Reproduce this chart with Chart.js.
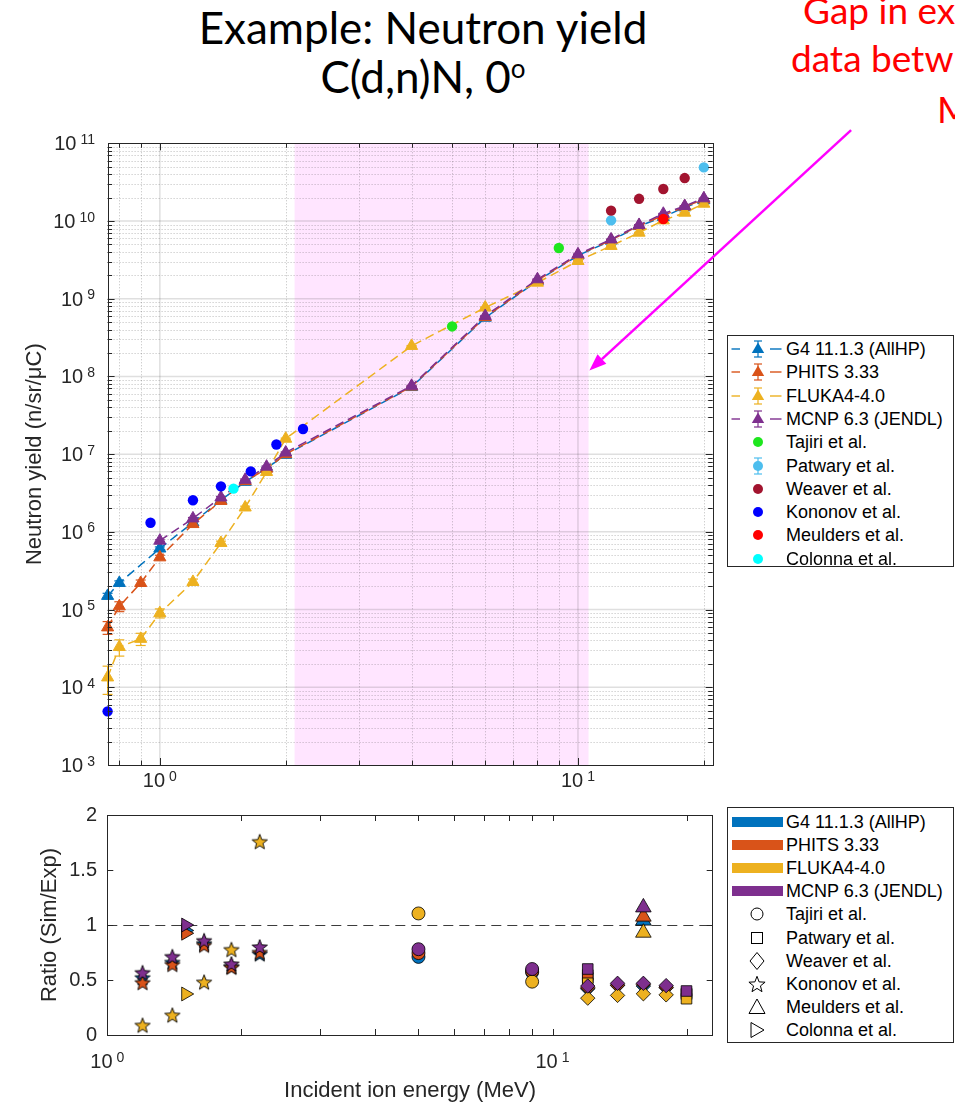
<!DOCTYPE html>
<html lang="en">
<head>
<meta charset="utf-8">
<title>Neutron yield C(d,n)N</title>
<script src="https://cdn.jsdelivr.net/npm/chart.js@4.4.1/dist/chart.umd.min.js"></script>
<style>
  html, body { margin: 0; padding: 0; background: #fff; }
  body { position: relative; width: 955px; height: 1103px; overflow: hidden; }
  canvas.plot { position: absolute; left: 0; }
  .heading { position: absolute; left: 0; width: 846px; text-align: center; font-family: Lato, "Open Sans", sans-serif;
             font-size: 44px; line-height: 44px; color: #000; white-space: nowrap; }
  .heading sup { font-size: 26px; line-height: 0; vertical-align: 0; position: relative; top: -15px; }
  .note { position: absolute; font-family: Lato, "Open Sans", sans-serif; font-size: 37px; line-height: 37px;
          color: #ff0000; white-space: nowrap; }
  .legend { position: absolute; background: #fff; border: 1px solid #262626; box-sizing: border-box;
            font-family: "Liberation Sans", Arial, sans-serif; font-size: 18px; color: #000; }
  .legend .row { position: absolute; left: 0; height: 22px; width: 100%; }
  .legend .row canvas { position: absolute; left: 2px; top: 0; }
  .legend .row span { position: absolute; left: 58px; top: 0; line-height: 22px; white-space: nowrap; }
</style>
</head>
<body>
<div class="heading" style="top:5px">Example: Neutron yield</div>
<div class="heading" style="top:54px">C(d,n)N, 0<sup>o</sup></div>
<div class="note" style="left:803px;top:-9px">Gap in ex</div>
<div class="note" style="left:791px;top:39px">data betw</div>
<div class="note" style="left:937px;top:90px">M</div>

<canvas class="plot" id="yieldChart" width="955" height="685" style="top:110px"></canvas>
<canvas class="plot" id="ratioChart" width="955" height="308" style="top:795px"></canvas>

<div class="legend" id="yieldLegend" style="left:727px;top:335px;width:227px;height:232px"></div>
<div class="legend" id="ratioLegend" style="left:727px;top:807px;width:227px;height:236px"></div>

<script>
// ---------------- simulated yields (n/sr/uC) vs deuteron energy (MeV) ----------------
const SIM_NAMES  = ['G4 11.1.3 (AllHP)', 'PHITS 3.33', 'FLUKA4-4.0', 'MCNP 6.3 (JENDL)'];
const SIM_COLORS = ['#0072BD', '#D95319', '#EDB120', '#7E2F8E'];

const G4_ENERGY = [0.75, 0.8, 1.0, 1.2, 1.4, 1.6, 1.8, 2.0, 4, 6, 8, 10, 12, 14, 16, 18, 20];
const G4_YIELD  = [1.5e5, 2.2e5, 6.1e5, 1.32e6, 2.55e6, 4.4e6, 6.6e6, 9.8e6, 7.3e7, 5.7e8, 1.7e9, 3.6e9, 5.6e9, 8.6e9, 1.13e10, 1.5e10, 1.85e10];
const G4_ERROR  = [1.2e4, 1.4e4, 3.0e4, 5e4, 8e4, 1.2e5, 1.6e5, 2.2e5, 1.2e6, 8e6, 2e7, 4e7, 6e7, 9e7, 1.1e8, 1.4e8, 1.7e8];

const PHITS_ENERGY = [0.75, 0.8, 0.9, 1.0, 1.2, 1.4, 1.6, 1.8, 2.0, 4, 6, 8, 10, 12, 14, 16, 18, 20];
const PHITS_YIELD  = [5.9e4, 1.1e5, 2.2e5, 4.7e5, 1.26e6, 2.5e6, 4.5e6, 6.5e6, 1.0e7, 7.4e7, 5.8e8, 1.72e9, 3.65e9, 5.7e9, 8.7e9, 1.18e10, 1.53e10, 1.9e10];
const PHITS_ERROR  = [1.1e4, 1.6e4, 2.0e4, 3.0e4, 5e4, 8e4, 1.2e5, 1.6e5, 2.2e5, 1.2e6, 8e6, 2e7, 4e7, 6e7, 9e7, 1.1e8, 1.4e8, 1.7e8];

const FLUKA_ENERGY = [0.75, 0.8, 0.9, 1.0, 1.2, 1.4, 1.6, 1.8, 2.0, 4, 6, 8, 10, 12, 14, 16, 18, 20];
const FLUKA_YIELD  = [1.34e4, 3.3e4, 4.2e4, 9.0e4, 2.27e5, 7.2e5, 2.06e6, 5.9e6, 1.58e7, 2.47e8, 7.7e8, 1.61e9, 3.06e9, 4.78e9, 7.08e9, 1.02e10, 1.28e10, 1.67e10];
const FLUKA_ERROR  = [5.3e3, 7.8e3, 7.5e3, 1.2e4, 2.0e4, 4e4, 8e4, 1.5e5, 3e5, 3e6, 1e7, 2e7, 4e7, 6e7, 8e7, 1.1e8, 1.3e8, 1.6e8];

const MCNP_ENERGY = [1.0, 1.2, 1.4, 1.6, 1.8, 2.0, 4, 6, 8, 10, 12, 14, 16, 18, 20];
const MCNP_YIELD  = [7.7e5, 1.49e6, 2.77e6, 4.68e6, 6.9e6, 1.05e7, 7.57e7, 6.0e8, 1.78e9, 3.73e9, 5.8e9, 8.9e9, 1.24e10, 1.56e10, 1.96e10];
const MCNP_ERROR  = [2e4, 4e4, 7e4, 1e5, 1.5e5, 2e5, 1.2e6, 8e6, 2e7, 4e7, 6e7, 9e7, 1.1e8, 1.4e8, 1.7e8];

// ---------------- measured yields ----------------
const EXP_NAMES  = ['Tajiri et al.', 'Patwary et al.', 'Weaver et al.', 'Kononov et al.', 'Meulders et al.', 'Colonna et al.'];
const EXP_COLORS = ['#1EE61E', '#4DBEEE', '#A2142F', '#0000FF', '#FF0000', '#00FFFF'];

const TAJIRI_ENERGY   = [5, 9];
const TAJIRI_YIELD    = [4.4e8, 4.5e9];
const PATWARY_ENERGY  = [12, 20];
const PATWARY_YIELD   = [1.02e10, 4.9e10];
const WEAVER_ENERGY   = [12, 14, 16, 18];
const WEAVER_YIELD    = [1.36e10, 1.93e10, 2.58e10, 3.57e10];
const KONONOV_ENERGY  = [0.75, 0.95, 1.2, 1.4, 1.65, 1.9, 2.2];
const KONONOV_YIELD   = [4.9e3, 1.31e6, 2.55e6, 3.85e6, 6.0e6, 1.33e7, 2.11e7];
const MEULDERS_ENERGY = [16];
const MEULDERS_YIELD  = [1.06e10];
const COLONNA_ENERGY  = [1.5];
const COLONNA_YIELD   = [3.6e6];

// ---------------- simulation / experiment ratios (rows: G4, PHITS, FLUKA, MCNP) ----------------
const TAJIRI_RATIO   = [[0.71, 0.57], [0.745, 0.58], [1.105, 0.485], [0.78, 0.6]];
const PATWARY_RATIO  = [[0.52, 0.37], [0.545, 0.38], [0.47, 0.33], [0.6, 0.4]];
const WEAVER_RATIO   = [[0.42, 0.45, 0.445, 0.43], [0.43, 0.455, 0.46, 0.435], [0.335, 0.36, 0.375, 0.365], [0.445, 0.47, 0.47, 0.449]];
const KONONOV_RATIO_ENERGY = [1.2, 1.4, 1.65, 1.9, 2.2];
const KONONOV_RATIO  = [[0.52, 0.66, 0.83, 0.62, 0.735], [0.475, 0.64, 0.815, 0.615, 0.75], [0.088, 0.18, 0.48, 0.776, 1.757], [0.566, 0.712, 0.857, 0.645, 0.8]];
const MEULDERS_RATIO = [[1.04], [1.076], [0.93], [1.16]];
const COLONNA_RATIO  = [[0.95], [0.925], [0.373], [1.0]];

// ---------------- axes ----------------
const X_RANGE = [0.75, 21];
const Y_RANGE = [1e3, 1e11];
const Y_TICK_EXPONENTS = [3, 4, 5, 6, 7, 8, 9, 10, 11];
const X_TICK_EXPONENTS = [0, 1];
const GAP_RANGE = [2.1, 10.6];
const ARROW_FROM = [45, 1.48e11];
const ARROW_TO = [10.65, 1.19e8];

const RATIO_X_RANGE = [1, 22.9];
const RATIO_Y_RANGE = [0, 2];
const RATIO_Y_TICKS = [0, 0.5, 1, 1.5, 2];
const RATIO_Y_LABELS = ['0', '0.5', '1', '1.5', '2'];
const RATIO_X_EXPONENTS = [0, 1];

const AXIS_COLOR = '#262626';
const TICK_FONT = '20px "Liberation Sans", Arial, sans-serif';
const SUP_FONT = '14px "Liberation Sans", Arial, sans-serif';
const LABEL_FONT = '22px "Liberation Sans", Arial, sans-serif';

// ---------------- helpers ----------------
function logSteps(min, max) {
  const out = [];
  const e0 = Math.floor(Math.log10(min)), e1 = Math.ceil(Math.log10(max));
  for (let e = e0; e <= e1; e++) {
    for (let k = 1; k <= 9; k++) {
      const v = k * Math.pow(10, e);
      if (v > min * 1.0001 && v < max * 0.9999) out.push({ v, major: k === 1 });
    }
  }
  return out;
}

function seg(ctx, x0, y0, x1, y1) {
  ctx.beginPath(); ctx.moveTo(x0, y0); ctx.lineTo(x1, y1); ctx.stroke();
}

// "10" with a raised exponent; anchor 'right' or 'center'
function powerLabel(ctx, exp, x, baseline, anchor) {
  ctx.font = TICK_FONT; const wb = ctx.measureText('10').width;
  ctx.font = SUP_FONT; const ws = ctx.measureText(String(exp)).width;
  const gap = 4, total = wb + gap + ws;
  const left = anchor === 'right' ? x - total : x - total / 2;
  ctx.textAlign = 'left'; ctx.textBaseline = 'alphabetic';
  ctx.font = TICK_FONT; ctx.fillText('10', left, baseline);
  ctx.font = SUP_FONT; ctx.fillText(String(exp), left + wb + gap, baseline - 6.5);
}

function rotatedLabel(ctx, text, baselineX, centerY) {
  ctx.save();
  ctx.translate(baselineX, centerY);
  ctx.rotate(-Math.PI / 2);
  ctx.font = LABEL_FONT; ctx.fillStyle = AXIS_COLOR;
  ctx.textAlign = 'center'; ctx.textBaseline = 'alphabetic';
  ctx.fillText(text, 0, 0);
  ctx.restore();
}

function starPath(g, cx, cy, ro, ri) {
  g.beginPath();
  for (let k = 0; k < 10; k++) {
    const r = k % 2 ? ri : ro;
    const a = -Math.PI / 2 + k * Math.PI / 5;
    const px = cx + r * Math.cos(a), py = cy + r * Math.sin(a);
    if (k) g.lineTo(px, py); else g.moveTo(px, py);
  }
  g.closePath();
}

function starImage(fill) {
  const c = document.createElement('canvas');
  c.width = 18; c.height = 18;
  const g = c.getContext('2d');
  starPath(g, 9, 9.6, 8, 3.4);
  g.fillStyle = fill; g.fill();
  g.lineWidth = 0.9; g.strokeStyle = '#000'; g.stroke();
  return c;
}

// ---------------- yield chart ----------------
const SIM_SERIES = [
  { e: G4_ENERGY, y: G4_YIELD, err: G4_ERROR },
  { e: PHITS_ENERGY, y: PHITS_YIELD, err: PHITS_ERROR },
  { e: FLUKA_ENERGY, y: FLUKA_YIELD, err: FLUKA_ERROR },
  { e: MCNP_ENERGY, y: MCNP_YIELD, err: MCNP_ERROR }
];
const EXP_SERIES = [
  { e: TAJIRI_ENERGY, y: TAJIRI_YIELD },
  { e: PATWARY_ENERGY, y: PATWARY_YIELD },
  { e: WEAVER_ENERGY, y: WEAVER_YIELD },
  { e: KONONOV_ENERGY, y: KONONOV_YIELD },
  { e: MEULDERS_ENERGY, y: MEULDERS_YIELD },
  { e: COLONNA_ENERGY, y: COLONNA_YIELD }
];

const yieldDatasets = [];
SIM_SERIES.forEach((s, i) => yieldDatasets.push({
  label: SIM_NAMES[i],
  data: s.e.map((e, j) => ({ x: e, y: s.y[j] })),
  errors: s.err,
  showLine: true,
  borderColor: SIM_COLORS[i], borderWidth: 1.5, borderDash: [9, 5],
  pointStyle: 'triangle', pointRadius: 7,
  pointBackgroundColor: SIM_COLORS[i], pointBorderColor: SIM_COLORS[i], pointBorderWidth: 1,
  clip: false
}));
EXP_SERIES.forEach((s, i) => yieldDatasets.push({
  label: EXP_NAMES[i],
  data: s.e.map((e, j) => ({ x: e, y: s.y[j] })),
  showLine: false,
  pointStyle: 'circle', pointRadius: 5.2,
  pointBackgroundColor: EXP_COLORS[i], pointBorderColor: EXP_COLORS[i], pointBorderWidth: 0,
  clip: false
}));
// later entries are painted on top
yieldDatasets.forEach((d, i) => { d.order = yieldDatasets.length - i; });

const yieldFrame = {
  id: 'yieldFrame',
  beforeDatasetsDraw(chart) {
    const { ctx, chartArea: a, scales: { x, y } } = chart;
    ctx.save();
    // energy window without measurements
    const g0 = x.getPixelForValue(GAP_RANGE[0]), g1 = x.getPixelForValue(GAP_RANGE[1]);
    ctx.fillStyle = 'rgba(255,0,255,0.1)';
    ctx.fillRect(g0, a.top, g1 - g0, a.bottom - a.top);

    const xs = logSteps(X_RANGE[0], X_RANGE[1]), ys = logSteps(Y_RANGE[0], Y_RANGE[1]);
    // minor grid (dotted)
    ctx.strokeStyle = 'rgba(38,38,38,0.3)'; ctx.lineWidth = 1; ctx.setLineDash([1, 2]);
    xs.filter(t => !t.major).forEach(t => { const p = Math.round(x.getPixelForValue(t.v)) + 0.5; seg(ctx, p, a.top, p, a.bottom); });
    ys.filter(t => !t.major).forEach(t => { const p = Math.round(y.getPixelForValue(t.v)) + 0.5; seg(ctx, a.left, p, a.right, p); });
    // major grid (solid)
    ctx.setLineDash([]); ctx.strokeStyle = 'rgba(38,38,38,0.15)'; ctx.lineWidth = 1.5;
    xs.filter(t => t.major).forEach(t => { const p = x.getPixelForValue(t.v); seg(ctx, p, a.top, p, a.bottom); });
    ys.filter(t => t.major).forEach(t => { const p = y.getPixelForValue(t.v); seg(ctx, a.left, p, a.right, p); });

    // error bars of the simulated series
    ctx.lineWidth = 1.2;
    chart.data.datasets.forEach((ds, i) => {
      if (!ds.errors) return;
      const meta = chart.getDatasetMeta(i);
      ctx.strokeStyle = ds.borderColor;
      ds.data.forEach((pt, j) => {
        const err = ds.errors[j];
        if (!err) return;
        const px = meta.data[j].x;
        const hi = y.getPixelForValue(pt.y + err);
        const lo = y.getPixelForValue(Math.max(pt.y - err, pt.y * 0.05));
        seg(ctx, px, hi, px, lo);
        seg(ctx, px - 5, hi, px + 5, hi);
        seg(ctx, px - 5, lo, px + 5, lo);
      });
    });
    ctx.restore();
  },
  afterDraw(chart) {
    const { ctx, chartArea: a, scales: { x, y } } = chart;
    ctx.save();
    ctx.strokeStyle = AXIS_COLOR; ctx.fillStyle = AXIS_COLOR; ctx.lineWidth = 1;
    // axes box
    ctx.strokeRect(Math.round(a.left) + 0.5, Math.round(a.top) + 0.5, Math.round(a.right - a.left), Math.round(a.bottom - a.top));
    // inward ticks on all four sides
    logSteps(X_RANGE[0], X_RANGE[1]).forEach(t => {
      const p = Math.round(x.getPixelForValue(t.v)) + 0.5, len = t.major ? 7 : 4.5;
      seg(ctx, p, a.bottom, p, a.bottom - len); seg(ctx, p, a.top, p, a.top + len);
    });
    logSteps(Y_RANGE[0], Y_RANGE[1]).forEach(t => {
      const p = Math.round(y.getPixelForValue(t.v)) + 0.5, len = t.major ? 7 : 4.5;
      seg(ctx, a.left, p, a.left + len, p); seg(ctx, a.right, p, a.right - len, p);
    });
    // tick labels
    Y_TICK_EXPONENTS.forEach(e => powerLabel(ctx, e, 95, y.getPixelForValue(Math.pow(10, e)) + 7, 'right'));
    X_TICK_EXPONENTS.forEach(e => powerLabel(ctx, e, x.getPixelForValue(Math.pow(10, e)), a.bottom + 22, 'center'));
    // axis title
    rotatedLabel(ctx, 'Neutron yield (n/sr/\u03BCC)', 41, (a.top + a.bottom) / 2);

    // pointer into the unmeasured energy window
    const x0 = x.getPixelForValue(ARROW_FROM[0]), y0 = y.getPixelForValue(ARROW_FROM[1]);
    const x1 = x.getPixelForValue(ARROW_TO[0]), y1 = y.getPixelForValue(ARROW_TO[1]);
    const ang = Math.atan2(y1 - y0, x1 - x0), head = 17, half = 6.5;
    const bx = x1 - head * Math.cos(ang), by = y1 - head * Math.sin(ang);
    ctx.strokeStyle = '#FF00FF'; ctx.fillStyle = '#FF00FF'; ctx.lineWidth = 2.5;
    seg(ctx, x0, y0, bx, by);
    ctx.beginPath();
    ctx.moveTo(x1, y1);
    ctx.lineTo(bx + half * Math.sin(ang), by - half * Math.cos(ang));
    ctx.lineTo(bx - half * Math.sin(ang), by + half * Math.cos(ang));
    ctx.closePath(); ctx.fill();
    ctx.restore();
  }
};

new Chart(document.getElementById('yieldChart'), {
  type: 'scatter',
  data: { datasets: yieldDatasets },
  options: {
    responsive: false, animation: false, devicePixelRatio: 1, events: [],
    layout: { padding: { left: 107.6, top: 33.3, right: 242.3, bottom: 30 } },
    scales: {
      x: { type: 'logarithmic', min: X_RANGE[0], max: X_RANGE[1], display: false },
      y: { type: 'logarithmic', min: Y_RANGE[0], max: Y_RANGE[1], display: false }
    },
    plugins: { legend: { display: false }, tooltip: { enabled: false } }
  },
  plugins: [yieldFrame]
});

// ---------------- ratio chart ----------------
const RATIO_GROUPS = [
  { e: TAJIRI_ENERGY, r: TAJIRI_RATIO, style: 'circle', radius: 6.5 },
  { e: PATWARY_ENERGY, r: PATWARY_RATIO, style: 'rect', radius: 7.5 },
  { e: WEAVER_ENERGY, r: WEAVER_RATIO, style: 'rectRot', radius: 7.2 },
  { e: KONONOV_RATIO_ENERGY, r: KONONOV_RATIO, style: 'star', radius: 7 },
  { e: MEULDERS_ENERGY, r: MEULDERS_RATIO, style: 'triangle', radius: 9 },
  { e: COLONNA_ENERGY, r: COLONNA_RATIO, style: 'triangle', radius: 8, rotation: 90 }
];
const STAR_IMAGES = SIM_COLORS.map(starImage);

const ratioDatasets = [];
RATIO_GROUPS.forEach((g, gi) => {
  g.r.forEach((vals, ci) => {
    ratioDatasets.push({
      label: EXP_NAMES[gi] + ' / ' + SIM_NAMES[ci],
      data: g.e.map((e, j) => ({ x: e, y: vals[j] })),
      showLine: false,
      pointStyle: g.style === 'star' ? STAR_IMAGES[ci] : g.style,
      pointRadius: g.radius,
      pointRotation: g.rotation || 0,
      pointBackgroundColor: SIM_COLORS[ci],
      pointBorderColor: '#000', pointBorderWidth: 0.8,
      clip: false
    });
  });
});
ratioDatasets.forEach((d, i) => { d.order = ratioDatasets.length - i; });

const ratioFrame = {
  id: 'ratioFrame',
  beforeDatasetsDraw(chart) {
    const { ctx, chartArea: a, scales: { y } } = chart;
    ctx.save();
    const p = Math.round(y.getPixelForValue(1)) + 0.5;
    ctx.strokeStyle = '#3c3c3c'; ctx.lineWidth = 1; ctx.setLineDash([10, 6]);
    seg(ctx, a.left, p, a.right, p);
    ctx.restore();
  },
  afterDraw(chart) {
    const { ctx, chartArea: a, scales: { x, y } } = chart;
    ctx.save();
    ctx.strokeStyle = AXIS_COLOR; ctx.fillStyle = AXIS_COLOR; ctx.lineWidth = 1;
    ctx.strokeRect(Math.round(a.left) + 0.5, Math.round(a.top) + 0.5, Math.round(a.right - a.left), Math.round(a.bottom - a.top));
    logSteps(RATIO_X_RANGE[0], RATIO_X_RANGE[1]).forEach(t => {
      const p = Math.round(x.getPixelForValue(t.v)) + 0.5;
      seg(ctx, p, a.bottom, p, a.bottom - 6); seg(ctx, p, a.top, p, a.top + 6);
    });
    RATIO_Y_TICKS.forEach(v => {
      const p = Math.round(y.getPixelForValue(v)) + 0.5;
      seg(ctx, a.left, p, a.left + 6, p); seg(ctx, a.right, p, a.right - 6, p);
    });
    ctx.font = TICK_FONT; ctx.textAlign = 'right'; ctx.textBaseline = 'middle';
    RATIO_Y_TICKS.forEach((v, i) => ctx.fillText(RATIO_Y_LABELS[i], 97, y.getPixelForValue(v)));
    RATIO_X_EXPONENTS.forEach(e => powerLabel(ctx, e, x.getPixelForValue(Math.pow(10, e)), a.bottom + 33, 'center'));
    ctx.font = LABEL_FONT; ctx.textAlign = 'center'; ctx.textBaseline = 'alphabetic';
    ctx.fillText('Incident ion energy (MeV)', (a.left + a.right) / 2, a.bottom + 62);
    rotatedLabel(ctx, 'Ratio (Sim/Exp)', 56, (a.top + a.bottom) / 2);
    ctx.restore();
  }
};

new Chart(document.getElementById('ratioChart'), {
  type: 'scatter',
  data: { datasets: ratioDatasets },
  options: {
    responsive: false, animation: false, devicePixelRatio: 1, events: [],
    layout: { padding: { left: 107.3, top: 20, right: 242.3, bottom: 68 } },
    scales: {
      x: { type: 'logarithmic', min: RATIO_X_RANGE[0], max: RATIO_X_RANGE[1], display: false },
      y: { type: 'linear', min: RATIO_Y_RANGE[0], max: RATIO_Y_RANGE[1], display: false }
    },
    plugins: { legend: { display: false }, tooltip: { enabled: false } }
  },
  plugins: [ratioFrame]
});

// ---------------- legends ----------------
function legendRow(box, top, text, draw) {
  const row = document.createElement('div');
  row.className = 'row'; row.style.top = top + 'px';
  const c = document.createElement('canvas'); c.width = 56; c.height = 22;
  draw(c.getContext('2d'));
  const s = document.createElement('span'); s.textContent = text;
  row.appendChild(c); row.appendChild(s); box.appendChild(row);
}

function errTriangle(g, color) {
  g.strokeStyle = color; g.fillStyle = color; g.lineWidth = 1.4;
  g.setLineDash([]);
  seg(g, 1.5, 11, 10, 11); seg(g, 40, 11, 51.5, 11);
  g.lineWidth = 1.2;
  seg(g, 28, 3, 28, 19); seg(g, 24, 3, 32, 3); seg(g, 24, 19, 32, 19);
  g.beginPath(); g.moveTo(28, 4.5); g.lineTo(34.2, 15); g.lineTo(21.8, 15); g.closePath(); g.fill();
}

const yieldLegend = document.getElementById('yieldLegend');
SIM_NAMES.forEach((name, i) => legendRow(yieldLegend, 2 + i * 23.3, name, g => errTriangle(g, SIM_COLORS[i])));
EXP_NAMES.forEach((name, i) => legendRow(yieldLegend, 2 + (i + 4) * 23.3, name, g => {
  g.fillStyle = EXP_COLORS[i]; g.strokeStyle = EXP_COLORS[i]; g.lineWidth = 1.2;
  if (i === 1) { seg(g, 28, 3, 28, 19); seg(g, 24, 3, 32, 3); seg(g, 24, 19, 32, 19); }
  g.beginPath(); g.arc(28, 11, 5, 0, Math.PI * 2); g.fill();
}));

const HOLLOW_MARKERS = [
  g => { g.beginPath(); g.arc(27, 11, 6, 0, Math.PI * 2); g.stroke(); },
  g => { g.strokeRect(21.5, 5.5, 11, 11); },
  g => { g.beginPath(); g.moveTo(27, 2.5); g.lineTo(34, 11); g.lineTo(27, 19.5); g.lineTo(20, 11); g.closePath(); g.stroke(); },
  g => { starPath(g, 27, 11.8, 8.5, 3.6); g.stroke(); },
  g => { g.beginPath(); g.moveTo(27, 3); g.lineTo(35, 17.5); g.lineTo(19, 17.5); g.closePath(); g.stroke(); },
  g => { g.beginPath(); g.moveTo(21, 3.5); g.lineTo(34, 11); g.lineTo(21, 18.5); g.closePath(); g.stroke(); }
];

const ratioLegend = document.getElementById('ratioLegend');
SIM_NAMES.forEach((name, i) => legendRow(ratioLegend, 3 + i * 23.1, name, g => {
  g.fillStyle = SIM_COLORS[i]; g.fillRect(2, 6, 51, 10);
}));
EXP_NAMES.forEach((name, i) => legendRow(ratioLegend, 3 + (i + 4) * 23.1, name, g => {
  g.strokeStyle = '#000'; g.lineWidth = 1; HOLLOW_MARKERS[i](g);
}));
</script>
</body>
</html>
